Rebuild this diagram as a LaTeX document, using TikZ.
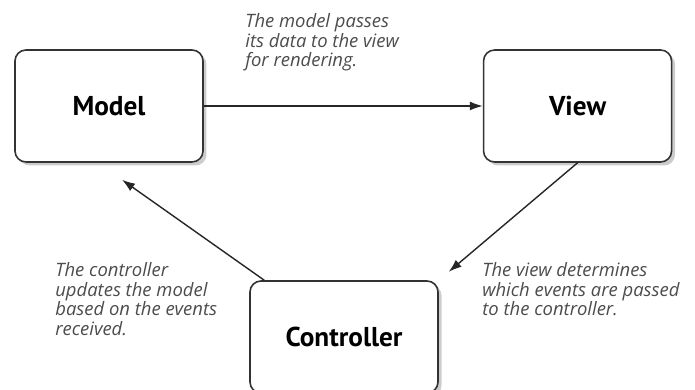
\documentclass[tikz,border=0pt]{standalone}
\usepackage{fontspec}
\setmainfont{PT Sans}
\newfontfamily\notefont{Open Sans}
\usetikzlibrary{positioning}
\usetikzlibrary{arrows.meta}
\usetikzlibrary{shadows}

\begin{document}
\begin{tikzpicture}[
    part/.style={draw=black!80, line width=0.9pt, rounded corners=2.2mm, fill=white,
      minimum width=3.76cm, minimum height=2.24cm,
      drop shadow={shadow xshift=0.7mm, shadow yshift=-0.7mm, opacity=0.4},
      font=\fontsize{15.5}{17}\selectfont\bfseries},
    note/.style={align=left, text=black!70, inner sep=0pt,
      font=\notefont\fontsize{10.5}{11.2}\selectfont\itshape},
    flow/.style={-{Latex[length=2.6mm, width=1.8mm]}, line width=0.8pt, draw=black!85}
  ]

  \useasboundingbox (0,0) rectangle (13.9,7.8);

  % Boxes

  \node[part] (model) at (2.18,5.68) {Model};
  \node[part, right=5.58cm of model] (view) {View};
  \node[part] (controller) at (6.88,1.06) {Controller};

  % Notes

  \node[note, anchor=north west] (n-render) at (4.9,7.54) {The model passes \\ its data to the view \\ for rendering.};
  \node[note, anchor=north west] (n-update) at (1.1,2.56) {The controller \\ updates the model \\ based on the events \\ received.};
  \node[note, anchor=north west] (n-events) at (9.64,2.56) {The view determines \\ which events are passed \\ to the controller.};

  % Arrows

  \draw[flow] (model.east) -- (view.west);
  \draw[flow, shorten >=2.6mm] (view.south) -- (controller.north east);
  \draw[flow] ([xshift=3mm]controller.north west) -- ([xshift=2.6mm, yshift=-3.4mm]model.south);

\end{tikzpicture}
\end{document}
